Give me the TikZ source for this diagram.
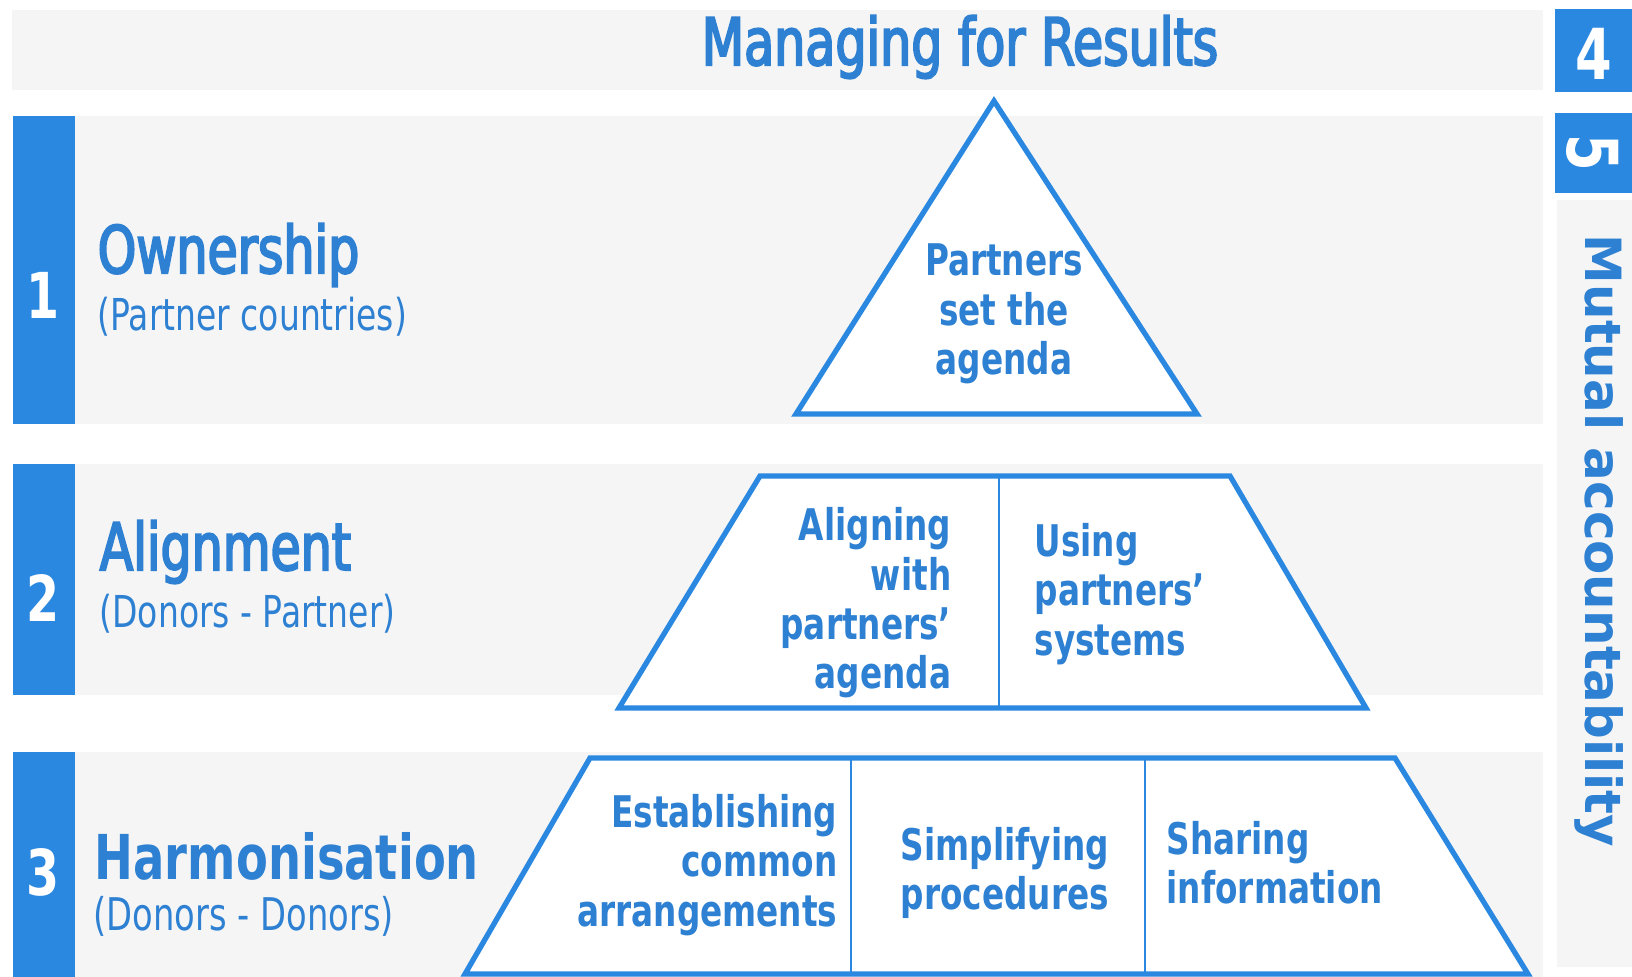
\documentclass[tikz,border=0pt]{standalone}
\usepackage{fontspec}
\setmainfont{DejaVu Sans}
\newfontfamily\pyrFont[FakeStretch=0.75]{DejaVu Sans}
\newfontfamily\pyrSemi[FakeStretch=0.75,FakeBold=3]{DejaVu Sans}
\newfontfamily\sideFont{DejaVu Sans}
\usetikzlibrary{positioning}
\definecolor{barColor}{RGB}{43,136,224}
\definecolor{textColor}{RGB}{45,128,210}
\definecolor{bandColor}{RGB}{245,245,245}
\tikzstyle{pyramid} = [x = 0.01cm, y = -0.01cm]
\tikzstyle{bandStyle} = [fill=bandColor]
\tikzstyle{barStyle} = [fill=barColor]
\tikzstyle{shapeLine} = [draw=barColor, fill=white, line width=1.5pt, line join=miter]
\tikzstyle{cellLine} = [draw=barColor, line width=0.8pt]
\tikzstyle{numberText} = [text=white, inner sep=0pt, font=\pyrFont\bfseries\fontsize{18}{18}\selectfont]
\tikzstyle{boxNumber} = [text=white, inner sep=0pt, font=\pyrFont\bfseries\fontsize{20}{20}\selectfont]
\tikzstyle{titleText} = [text=textColor, anchor=west, inner sep=0pt, font=\pyrSemi\fontsize{18.6}{20}\selectfont]
\tikzstyle{subText} = [text=textColor, anchor=west, inner sep=0pt, font=\pyrFont\fontsize{12.5}{14}\selectfont]
\tikzstyle{cellText} = [text=textColor, inner sep=0pt, font=\pyrFont\bfseries\fontsize{12.4}{14}\selectfont]
\newcommand{\levelBand}[5]{
  \fill [bandStyle] (73, #2) rectangle (1543, #3);
  \fill [barStyle] (13, #2) rectangle (75, #3);
  \node [numberText] (#1) at (43, #4) {#5};
}

\begin{document}
\begin{tikzpicture}[pyramid]
  \useasboundingbox (0,0) rectangle (1632,977);

  % top band and side column
  \fill [bandStyle] (12,10) rectangle (1543,90);
  \node [titleText, anchor=center] (results) at (960,47) {Managing for Results};
  \fill [barStyle] (1555,9) rectangle (1632,92);
  \node [boxNumber] (four) at (1594,54) {4};
  \fill [barStyle] (1555,113) rectangle (1632,193);
  \node [boxNumber, rotate=-90] (five) at (1593,153) {5};
  \fill [bandStyle] (1557,200) rectangle (1632,967);
  \node [text=textColor, rotate=-90, inner sep=0pt, font=\sideFont\bfseries\fontsize{14.2}{16}\selectfont]
    (mutual) at (1599,541) {Mutual accountability};

  % the three levels
  \levelBand{one}{116}{424}{295}{1}
  \levelBand{two}{464}{695}{598}{2}
  \levelBand{three}{752}{977}{872}{3}

  \node [titleText] (ownership) at (97,255) {Ownership};
  \node [subText] (ownershipSub) at (97,317) {(Partner countries)};
  \node [titleText] (alignment) at (99,552) {Alignment};
  \node [subText] (alignmentSub) at (99,614) {(Donors - Partner)};
  \node [titleText, font=\pyrFont\bfseries\fontsize{17.6}{20}\selectfont] (harmonisation) at (94,856) {Harmonisation};
  \node [subText, font=\pyrFont\fontsize{12.8}{14}\selectfont] (harmonisationSub) at (93,916) {(Donors - Donors)};

  % pyramid
  \filldraw [shapeLine] (994,101) -- (1197,414) -- (796,414) -- cycle;
  \node [cellText, align=center] (agenda) at (1004,314) {Partners\\set the\\agenda};

  \filldraw [shapeLine] (760,476) -- (1230,476) -- (1366,708) -- (619,708) -- cycle;
  \draw [cellLine] (999,476) -- (999,708);
  \node [cellText, align=right, anchor=east] (aligning) at (952,603) {Aligning\\with\\partners’\\agenda};
  \node [cellText, align=left, anchor=west] (using) at (1034,594) {Using\\partners’\\systems};

  \filldraw [shapeLine] (590,758) -- (1395,758) -- (1528,974) -- (465,974) -- cycle;
  \draw [cellLine] (851,758) -- (851,974);
  \draw [cellLine] (1145,758) -- (1145,974);
  \node [cellText, align=right, anchor=east] (establishing) at (838,865) {Establishing\\common\\arrangements};
  \node [cellText, align=center] (simplifying) at (1005,873) {Simplifying\\procedures};
  \node [cellText, align=left, anchor=west] (sharing) at (1166,863) {Sharing\\information};
\end{tikzpicture}
\end{document}
